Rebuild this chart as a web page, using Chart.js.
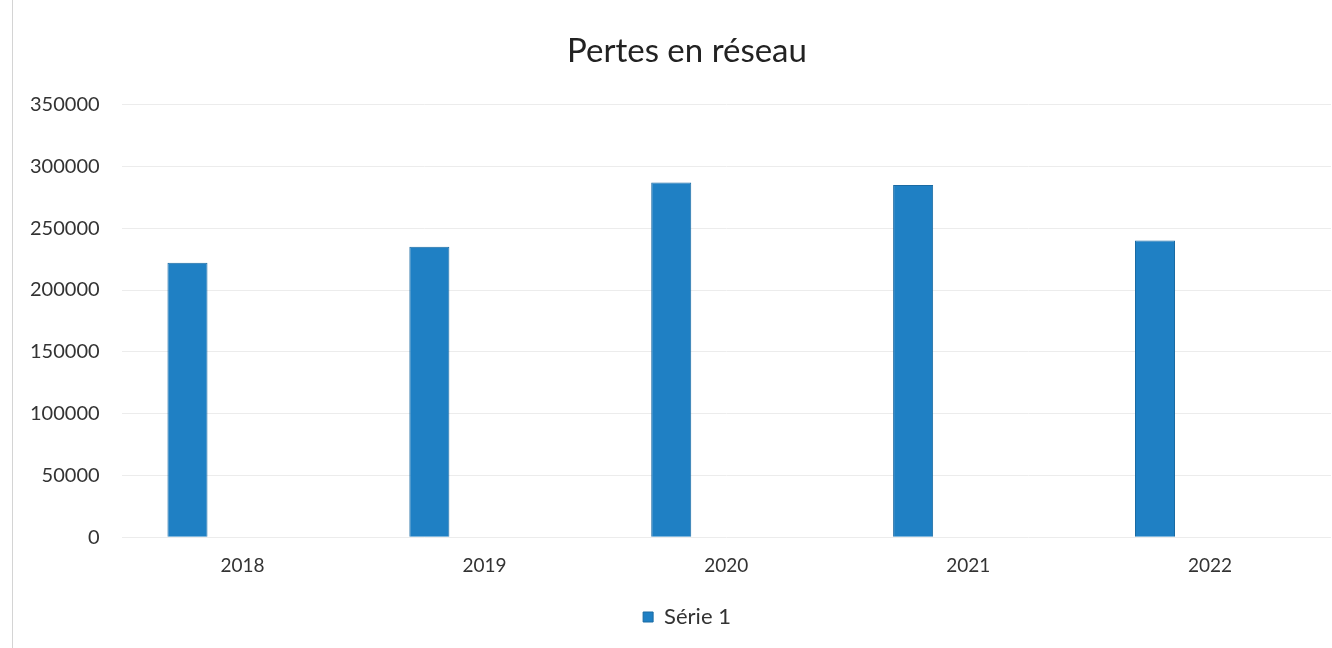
<!DOCTYPE html>
<html>
<head>
<meta charset="utf-8">
<script src="https://cdn.jsdelivr.net/npm/chart.js@4"></script>
<style>
    html, body { margin: 0; padding: 0; background: #fff; overflow: hidden; }
    #wrap { position: relative; width: 1332px; height: 648px; overflow: hidden; }
    #frame { position: absolute; left: 12px; top: 0; width: 0; height: 648px; border-left: 1px solid #d4d4d4; }
</style>
</head>
<body>
<div id="wrap">
    <div id="frame"></div>
    <!-- the original chart frame runs a little past the right edge of the picture -->
    <canvas id="pertes" width="1370" height="648"></canvas>
</div>
<script>
const years = ['2018', '2019', '2020', '2021', '2022'];
const serie1 = [222000, 235000, 287000, 285000, 240000];
// Excel kept two empty series beside Série 1, which pushes the bars left
const emptySerie = [null, null, null, null, null];

const fontFamily = 'Lato, "Open Sans", sans-serif';
const textColor = '#333333';
const barColor = '#1f80c4';

new Chart(
    document.getElementById('pertes'),
    {
        type: 'bar',
        data: {
            labels: years,
            datasets: [
                {
                    label: 'Série 1',
                    data: serie1,
                    backgroundColor: barColor,
                    borderColor: '#1a6aa3',
                    borderWidth: 1,
                },
                {
                    label: 'Série 2',
                    data: emptySerie,
                },
                {
                    label: 'Série 3',
                    data: emptySerie,
                }
            ]
        },
        options: {
            responsive: false,
            animation: false,
            categoryPercentage: 0.683,
            barPercentage: 0.727,
            layout: {
                padding: { top: 18, left: 8, right: 4, bottom: 10 }
            },
            plugins: {
                title: {
                    display: true,
                    text: 'Pertes en réseau',
                    color: '#222222',
                    font: { family: fontFamily, size: 33, weight: 'normal' },
                    padding: { top: 14, bottom: 33 }
                },
                legend: {
                    position: 'bottom',
                    labels: {
                        filter: (item) => item.datasetIndex === 0,
                        color: textColor,
                        font: { family: fontFamily, size: 22 },
                        boxWidth: 10,
                        boxHeight: 10,
                        padding: 20
                    }
                },
                tooltip: { enabled: false }
            },
            scales: {
                x: {
                    grid: { display: false },
                    border: { display: false },
                    ticks: {
                        color: textColor,
                        font: { family: fontFamily, size: 19 },
                        padding: 9
                    }
                },
                y: {
                    min: 0,
                    max: 350000,
                    ticks: {
                        stepSize: 50000,
                        color: textColor,
                        font: { family: fontFamily, size: 20 },
                        padding: 22,
                        callback: (value) => String(value)
                    },
                    grid: {
                        color: '#ececec',
                        drawTicks: false
                    },
                    border: { display: false }
                },
                // blank space on the right, like the inner margin of the Excel frame
                spacer: {
                    type: 'linear',
                    position: 'right',
                    display: true,
                    grid: { display: false },
                    border: { display: false },
                    ticks: { display: false },
                    afterFit: (scale) => {
                        scale.width = 35;
                    }
                }
            }
        }
    }
);
</script>
</body>
</html>
